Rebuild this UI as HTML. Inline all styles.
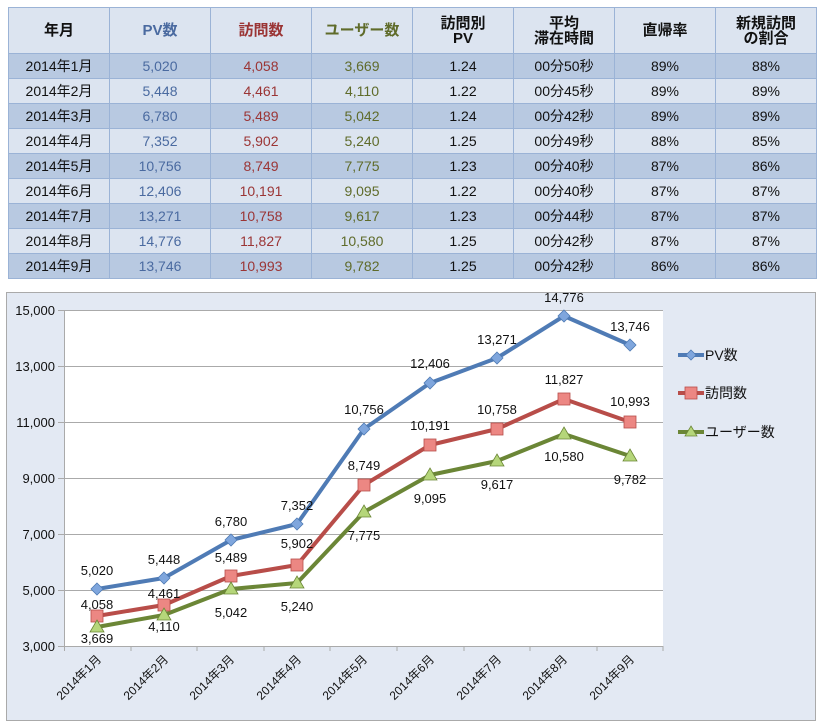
<!DOCTYPE html>
<html><head><meta charset="utf-8"><style>
body{margin:0;background:#fff;width:821px;height:727px;overflow:hidden;font-family:"Liberation Sans","Noto Sans CJK JP",sans-serif;}
table{position:absolute;left:8px;top:7px;border-collapse:collapse;}
td{border:1px solid #9bb3d6;width:100px;height:24px;padding:0;text-align:center;font-size:14px;color:#111;line-height:15px;}
tr.h td{height:45px;background:#dce4f0;font-weight:bold;font-size:15px;}
tr.o td{background:#b8c9e1;}
tr.e td{background:#dce4f0;}
.p{color:#4a6aa0}.v{color:#9b3535}.u{color:#5f6b2a}
</style></head><body>
<table>
<tr class="h"><td>年月</td><td class="p">PV数</td><td class="v">訪問数</td><td class="u">ユーザー数</td><td>訪問別<br>PV</td><td>平均<br>滞在時間</td><td>直帰率</td><td>新規訪問<br>の割合</td></tr>
<tr class="o"><td>2014年1月</td><td class="p">5,020</td><td class="v">4,058</td><td class="u">3,669</td><td>1.24</td><td>00分50秒</td><td>89%</td><td>88%</td></tr>
<tr class="e"><td>2014年2月</td><td class="p">5,448</td><td class="v">4,461</td><td class="u">4,110</td><td>1.22</td><td>00分45秒</td><td>89%</td><td>89%</td></tr>
<tr class="o"><td>2014年3月</td><td class="p">6,780</td><td class="v">5,489</td><td class="u">5,042</td><td>1.24</td><td>00分42秒</td><td>89%</td><td>89%</td></tr>
<tr class="e"><td>2014年4月</td><td class="p">7,352</td><td class="v">5,902</td><td class="u">5,240</td><td>1.25</td><td>00分49秒</td><td>88%</td><td>85%</td></tr>
<tr class="o"><td>2014年5月</td><td class="p">10,756</td><td class="v">8,749</td><td class="u">7,775</td><td>1.23</td><td>00分40秒</td><td>87%</td><td>86%</td></tr>
<tr class="e"><td>2014年6月</td><td class="p">12,406</td><td class="v">10,191</td><td class="u">9,095</td><td>1.22</td><td>00分40秒</td><td>87%</td><td>87%</td></tr>
<tr class="o"><td>2014年7月</td><td class="p">13,271</td><td class="v">10,758</td><td class="u">9,617</td><td>1.23</td><td>00分44秒</td><td>87%</td><td>87%</td></tr>
<tr class="e"><td>2014年8月</td><td class="p">14,776</td><td class="v">11,827</td><td class="u">10,580</td><td>1.25</td><td>00分42秒</td><td>87%</td><td>87%</td></tr>
<tr class="o"><td>2014年9月</td><td class="p">13,746</td><td class="v">10,993</td><td class="u">9,782</td><td>1.25</td><td>00分42秒</td><td>86%</td><td>86%</td></tr>
</table>
<svg width="821" height="727" style="position:absolute;left:0;top:0" font-family="Liberation Sans, Noto Sans CJK JP, sans-serif" font-size="13">
<rect x="6.5" y="292.5" width="809" height="428" fill="#e3e9f3" stroke="#aaa"/>
<rect x="64" y="310" width="599" height="336" fill="#fff"/>
<g stroke="#aaa" stroke-width="1">
<line x1="58" y1="310.5" x2="663" y2="310.5"/><line x1="58" y1="366.5" x2="663" y2="366.5"/><line x1="58" y1="422.5" x2="663" y2="422.5"/><line x1="58" y1="478.5" x2="663" y2="478.5"/><line x1="58" y1="534.5" x2="663" y2="534.5"/><line x1="58" y1="590.5" x2="663" y2="590.5"/><line x1="58" y1="646.5" x2="663" y2="646.5"/>
<line x1="64.5" y1="310" x2="64.5" y2="651"/>
<line x1="131" y1="646" x2="131" y2="651"/><line x1="197" y1="646" x2="197" y2="651"/><line x1="264" y1="646" x2="264" y2="651"/><line x1="330" y1="646" x2="330" y2="651"/><line x1="397" y1="646" x2="397" y2="651"/><line x1="464" y1="646" x2="464" y2="651"/><line x1="530" y1="646" x2="530" y2="651"/><line x1="597" y1="646" x2="597" y2="651"/><line x1="663" y1="646" x2="663" y2="651"/>
</g>
<g text-anchor="end" fill="#111">
<text x="55" y="315">15,000</text><text x="55" y="371">13,000</text><text x="55" y="427">11,000</text><text x="55" y="483">9,000</text><text x="55" y="539">7,000</text><text x="55" y="595">5,000</text><text x="55" y="651">3,000</text>
</g>
<g text-anchor="end" fill="#111" font-size="12">
<text transform="translate(102,660) rotate(-45)">2014年1月</text>
<text transform="translate(169,660) rotate(-45)">2014年2月</text>
<text transform="translate(235,660) rotate(-45)">2014年3月</text>
<text transform="translate(302,660) rotate(-45)">2014年4月</text>
<text transform="translate(368,660) rotate(-45)">2014年5月</text>
<text transform="translate(435,660) rotate(-45)">2014年6月</text>
<text transform="translate(502,660) rotate(-45)">2014年7月</text>
<text transform="translate(568,660) rotate(-45)">2014年8月</text>
<text transform="translate(635,660) rotate(-45)">2014年9月</text>
</g>
<polyline fill="none" stroke="#4f7bb5" stroke-width="4" stroke-linejoin="round" points="97,589 164,578 231,540 297,524 364,429 430,383 497,358 564,316 630,345"/>
<polyline fill="none" stroke="#b84d49" stroke-width="4" stroke-linejoin="round" points="97,616 164,605 231,576 297,565 364,485 430,445 497,429 564,399 630,422"/>
<polyline fill="none" stroke="#6b8636" stroke-width="4" stroke-linejoin="round" points="97,627 164,615 231,589 297,583 364,512 430,475 497,461 564,434 630,456"/>
<g fill="#7fa6dd" stroke="#4f7bb5" stroke-width="0.8">
<path d="M97 583l6 6-6 6-6-6z"/><path d="M164 572l6 6-6 6-6-6z"/><path d="M231 534l6 6-6 6-6-6z"/><path d="M297 518l6 6-6 6-6-6z"/><path d="M364 423l6 6-6 6-6-6z"/><path d="M430 377l6 6-6 6-6-6z"/><path d="M497 352l6 6-6 6-6-6z"/><path d="M564 310l6 6-6 6-6-6z"/><path d="M630 339l6 6-6 6-6-6z"/>
</g>
<g fill="#ec8783" stroke="#b84d49" stroke-width="0.8">
<rect x="91" y="610" width="12" height="12"/><rect x="158" y="599" width="12" height="12"/><rect x="225" y="570" width="12" height="12"/><rect x="291" y="559" width="12" height="12"/><rect x="358" y="479" width="12" height="12"/><rect x="424" y="439" width="12" height="12"/><rect x="491" y="423" width="12" height="12"/><rect x="558" y="393" width="12" height="12"/><rect x="624" y="416" width="12" height="12"/>
</g>
<g fill="#b5d67a" stroke="#6b8636" stroke-width="0.8">
<path d="M97 620l7 12h-14z"/><path d="M164 608l7 12h-14z"/><path d="M231 582l7 12h-14z"/><path d="M297 576l7 12h-14z"/><path d="M364 505l7 12h-14z"/><path d="M430 468l7 12h-14z"/><path d="M497 454l7 12h-14z"/><path d="M564 427l7 12h-14z"/><path d="M630 449l7 12h-14z"/>
</g>
<g text-anchor="middle" fill="#111">
<text x="97" y="575">5,020</text><text x="164" y="564">5,448</text><text x="231" y="526">6,780</text><text x="297" y="510">7,352</text><text x="364" y="414">10,756</text><text x="430" y="368">12,406</text><text x="497" y="344">13,271</text><text x="564" y="302">14,776</text><text x="630" y="331">13,746</text>
<text x="97" y="609">4,058</text><text x="164" y="598">4,461</text><text x="231" y="562">5,489</text><text x="297" y="548">5,902</text><text x="364" y="470">8,749</text><text x="430" y="430">10,191</text><text x="497" y="414">10,758</text><text x="564" y="384">11,827</text><text x="630" y="406">10,993</text>
<text x="97" y="643">3,669</text><text x="164" y="631">4,110</text><text x="231" y="617">5,042</text><text x="297" y="611">5,240</text><text x="364" y="540">7,775</text><text x="430" y="503">9,095</text><text x="497" y="489">9,617</text><text x="564" y="461">10,580</text><text x="630" y="484">9,782</text>
</g>
<line x1="678" y1="355" x2="704" y2="355" stroke="#4f7bb5" stroke-width="4"/><path d="M691 350l5 5-5 5-5-5z" fill="#7fa6dd" stroke="#4f7bb5" stroke-width="0.8"/>
<line x1="678" y1="393" x2="704" y2="393" stroke="#b84d49" stroke-width="4"/><rect x="685" y="387" width="12" height="12" fill="#ec8783" stroke="#b84d49" stroke-width="0.8"/>
<line x1="678" y1="432" x2="704" y2="432" stroke="#6b8636" stroke-width="4"/><path d="M691 426l6 10h-12z" fill="#b5d67a" stroke="#6b8636" stroke-width="0.8"/>
<g fill="#111" font-size="14"><text x="705" y="360">PV数</text><text x="705" y="398">訪問数</text><text x="705" y="437">ユーザー数</text></g>
</svg>
</body></html>
